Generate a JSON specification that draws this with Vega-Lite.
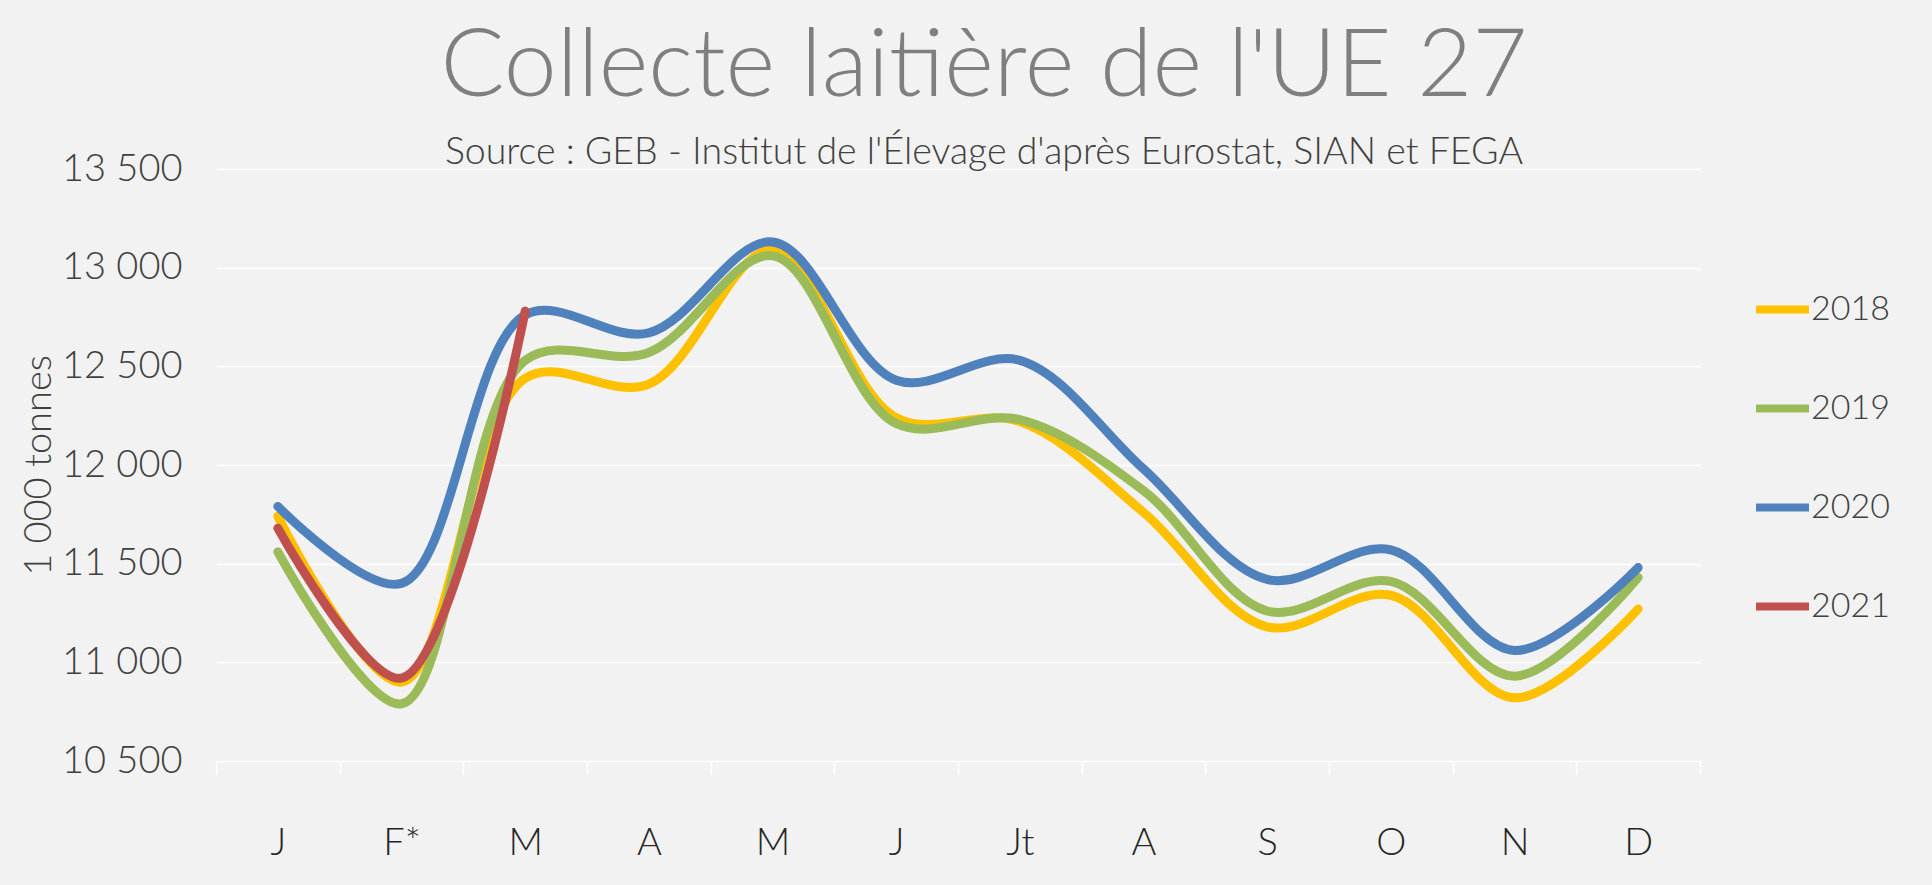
{
  "$schema": "https://vega.github.io/schema/vega-lite/v6.json",
  "width": 1484,
  "height": 592,
  "autosize": "none",
  "padding": {"left": 216, "top": 169, "right": 232, "bottom": 124},
  "background": "#f2f2f2",
  "title": {
    "text": "Collecte laitière de l'UE 27",
    "subtitle": "Source : GEB - Institut de l'Élevage d'après Eurostat, SIAN et FEGA",
    "anchor": "middle",
    "dx": 26,
    "font": "Lato",
    "fontSize": 95,
    "fontWeight": 300,
    "color": "#7f7f7f",
    "subtitleFont": "Lato",
    "subtitleFontSize": 37.5,
    "subtitleFontWeight": 300,
    "subtitleColor": "#404040",
    "subtitlePadding": 18,
    "offset": -22
  },
  "data": {
    "values": [
      {"mois": "J", "annee": "2018", "collecte": 11740},
      {"mois": "F*", "annee": "2018", "collecte": 10900},
      {"mois": "M", "annee": "2018", "collecte": 12440},
      {"mois": "A", "annee": "2018", "collecte": 12410},
      {"mois": "M ", "annee": "2018", "collecte": 13090},
      {"mois": "J ", "annee": "2018", "collecte": 12240},
      {"mois": "Jt", "annee": "2018", "collecte": 12220},
      {"mois": "A ", "annee": "2018", "collecte": 11760},
      {"mois": "S", "annee": "2018", "collecte": 11180},
      {"mois": "O", "annee": "2018", "collecte": 11340},
      {"mois": "N", "annee": "2018", "collecte": 10820},
      {"mois": "D", "annee": "2018", "collecte": 11270},
      {"mois": "J", "annee": "2019", "collecte": 11560},
      {"mois": "F*", "annee": "2019", "collecte": 10790},
      {"mois": "M", "annee": "2019", "collecte": 12530},
      {"mois": "A", "annee": "2019", "collecte": 12570},
      {"mois": "M ", "annee": "2019", "collecte": 13060},
      {"mois": "J ", "annee": "2019", "collecte": 12210},
      {"mois": "Jt", "annee": "2019", "collecte": 12230},
      {"mois": "A ", "annee": "2019", "collecte": 11870},
      {"mois": "S", "annee": "2019", "collecte": 11260},
      {"mois": "O", "annee": "2019", "collecte": 11410},
      {"mois": "N", "annee": "2019", "collecte": 10930},
      {"mois": "D", "annee": "2019", "collecte": 11430},
      {"mois": "J", "annee": "2020", "collecte": 11790},
      {"mois": "F*", "annee": "2020", "collecte": 11400},
      {"mois": "M", "annee": "2020", "collecte": 12760},
      {"mois": "A", "annee": "2020", "collecte": 12670},
      {"mois": "M ", "annee": "2020", "collecte": 13130},
      {"mois": "J ", "annee": "2020", "collecte": 12430},
      {"mois": "Jt", "annee": "2020", "collecte": 12530},
      {"mois": "A ", "annee": "2020", "collecte": 11980},
      {"mois": "S", "annee": "2020", "collecte": 11420},
      {"mois": "O", "annee": "2020", "collecte": 11570},
      {"mois": "N", "annee": "2020", "collecte": 11060},
      {"mois": "D", "annee": "2020", "collecte": 11480},
      {"mois": "J", "annee": "2021", "collecte": 11680},
      {"mois": "F*", "annee": "2021", "collecte": 10920},
      {"mois": "M", "annee": "2021", "collecte": 12780}
    ]
  },
  "mark": {"type": "line", "interpolate": "catmull-rom", "strokeWidth": 9, "strokeCap": "round", "strokeJoin": "round"},
  "encoding": {
    "x": {
      "field": "mois",
      "type": "ordinal",
      "sort": null,
      "bandPosition": 0.5,
      "scale": {"type": "band", "paddingInner": 0, "paddingOuter": 0},
      "axis": {
        "title": null,
        "labelAngle": 0,
        "labelFont": "Lato",
        "labelFontSize": 38,
        "labelFontWeight": 300,
        "labelColor": "#262626",
        "labelPadding": 50,
        "tickBand": "extent",
        "tickSize": 13,
        "tickColor": "#ffffff",
        "tickWidth": 1.5,
        "domain": false,
        "grid": false
      }
    },
    "y": {
      "field": "collecte",
      "type": "quantitative",
      "scale": {"domain": [10500, 13500], "nice": false, "zero": false},
      "axis": {
        "values": [10500, 11000, 11500, 12000, 12500, 13000, 13500],
        "labelExpr": "replace(format(datum.value, ','), ',', ' ')",
        "title": "1 000  tonnes",
        "titleFont": "Lato",
        "titleFontSize": 38,
        "titleFontWeight": 300,
        "titleColor": "#404040",
        "titleX": -177,
        "titleY": 296,
        "titleAngle": -90,
        "titleAlign": "center",
        "titleBaseline": "middle",
        "labelFont": "Lato",
        "labelFontSize": 38,
        "labelFontWeight": 300,
        "labelColor": "#404040",
        "labelPadding": 34,
        "ticks": false,
        "domain": false,
        "grid": true,
        "gridColor": "#ffffff",
        "gridWidth": 1.5
      }
    },
    "color": {
      "field": "annee",
      "type": "nominal",
      "scale": {"domain": ["2018", "2019", "2020", "2021"], "range": ["#FFC000", "#9BBB59", "#4F81BD", "#C0504D"]},
      "legend": {
        "title": null,
        "orient": "none",
        "legendX": 1536,
        "legendY": 110,
        "padding": 0,
        "symbolType": "stroke",
        "symbolSize": 2809,
        "symbolStrokeWidth": 8,
        "labelFont": "Lato",
        "labelFontSize": 34,
        "labelFontWeight": 300,
        "labelColor": "#404040",
        "labelOffset": -2,
        "rowPadding": 51
      }
    }
  },
  "config": {"view": {"stroke": null}}
}
